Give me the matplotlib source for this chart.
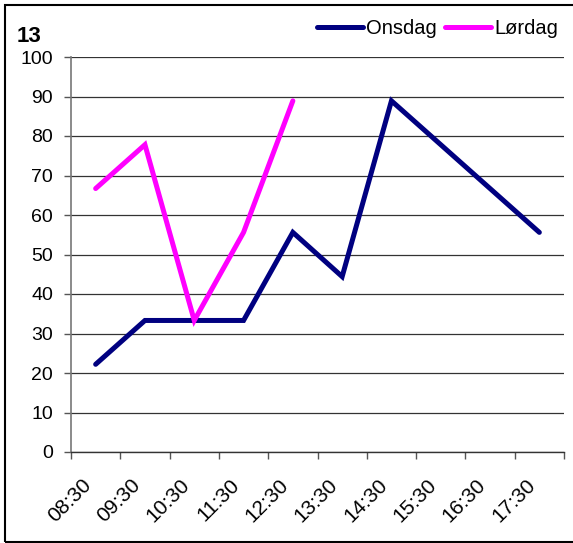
import matplotlib
matplotlib.use("Agg")
import matplotlib.pyplot as plt
from matplotlib.patches import Rectangle
from matplotlib.transforms import ScaledTranslation

categories = ["08:30", "09:30", "10:30", "11:30", "12:30", "13:30", "14:30", "15:30", "16:30", "17:30"]
onsdag = [22.2, 33.3, 33.3, 33.3, 55.6, 44.4, 88.9, 77.8, 66.7, 55.6]
lordag = [66.7, 77.8, 33.3, 55.6, 88.9]
series_names = ["Onsdag", "Lørdag"]
title = "13"

plt.rcParams['font.family'] = ['Liberation Sans', 'DejaVu Sans']

W, H = 573, 543
fig = plt.figure(figsize=(W / 100, H / 100), dpi=100)
ax = fig.add_axes([71 / W, 1 - 452 / H, (564 - 71) / W, (452 - 57) / H])

x_on = list(range(len(onsdag)))
x_lo = list(range(len(lordag)))
l1, = ax.plot(x_on, onsdag, color="#000080", lw=3.6, solid_capstyle="round", solid_joinstyle="miter", zorder=3)
l2, = ax.plot(x_lo, lordag, color="#FF00FF", lw=3.6, solid_capstyle="round", solid_joinstyle="miter", zorder=4)

ax.set_xlim(-0.5, len(categories) - 0.5)
ax.set_ylim(0, 100)
ax.set_yticks(range(0, 101, 10))
ax.set_yticklabels([str(v) for v in range(0, 101, 10)], fontsize=14)
ax.yaxis.grid(True, color="#333333", lw=0.9)
ax.set_axisbelow(True)

ax.set_xticks([i + 0.5 for i in range(-1, len(categories))], minor=False)
ax.set_xticklabels([])
ax.set_xticks(range(len(categories)), minor=True)
ax.set_xticklabels(categories, minor=True, rotation=45, ha="right", va="top",
                   rotation_mode="anchor", fontsize=15)
ax.tick_params(axis="x", which="minor", length=0, pad=17)
ax.tick_params(axis="x", which="major", length=5, color="#555555", width=1)
ax.tick_params(axis="y", length=5, color="#555555", width=1, pad=8)
shift = ScaledTranslation(-14 / 100, 0, fig.dpi_scale_trans)
for lab in ax.get_xticklabels(minor=True):
    lab.set_transform(lab.get_transform() + shift)

for s in ["top", "right"]:
    ax.spines[s].set_visible(False)
ax.spines["left"].set_color("#777777")
ax.spines["left"].set_linewidth(1.2)
ax.spines["bottom"].set_color("#333333")
ax.spines["bottom"].set_linewidth(1)

fig.text(17 / W, 1 - 42 / H, title, fontsize=16, fontweight="bold", ha="left", va="baseline")

leg = fig.legend([l1, l2], series_names, loc="center right",
                 bbox_to_anchor=(558 / W, 1 - 29 / H), ncol=2, frameon=False,
                 fontsize=14.5, handlelength=2.3, handletextpad=0.15, columnspacing=0.4,
                 borderaxespad=0, borderpad=0)

fig.patches.append(Rectangle((5 / W, 1 - 542 / H), 1.2, (542 - 5) / H, transform=fig.transFigure,
                             fill=False, edgecolor="black", lw=1.5))

fig.savefig("out.png", dpi=100)
